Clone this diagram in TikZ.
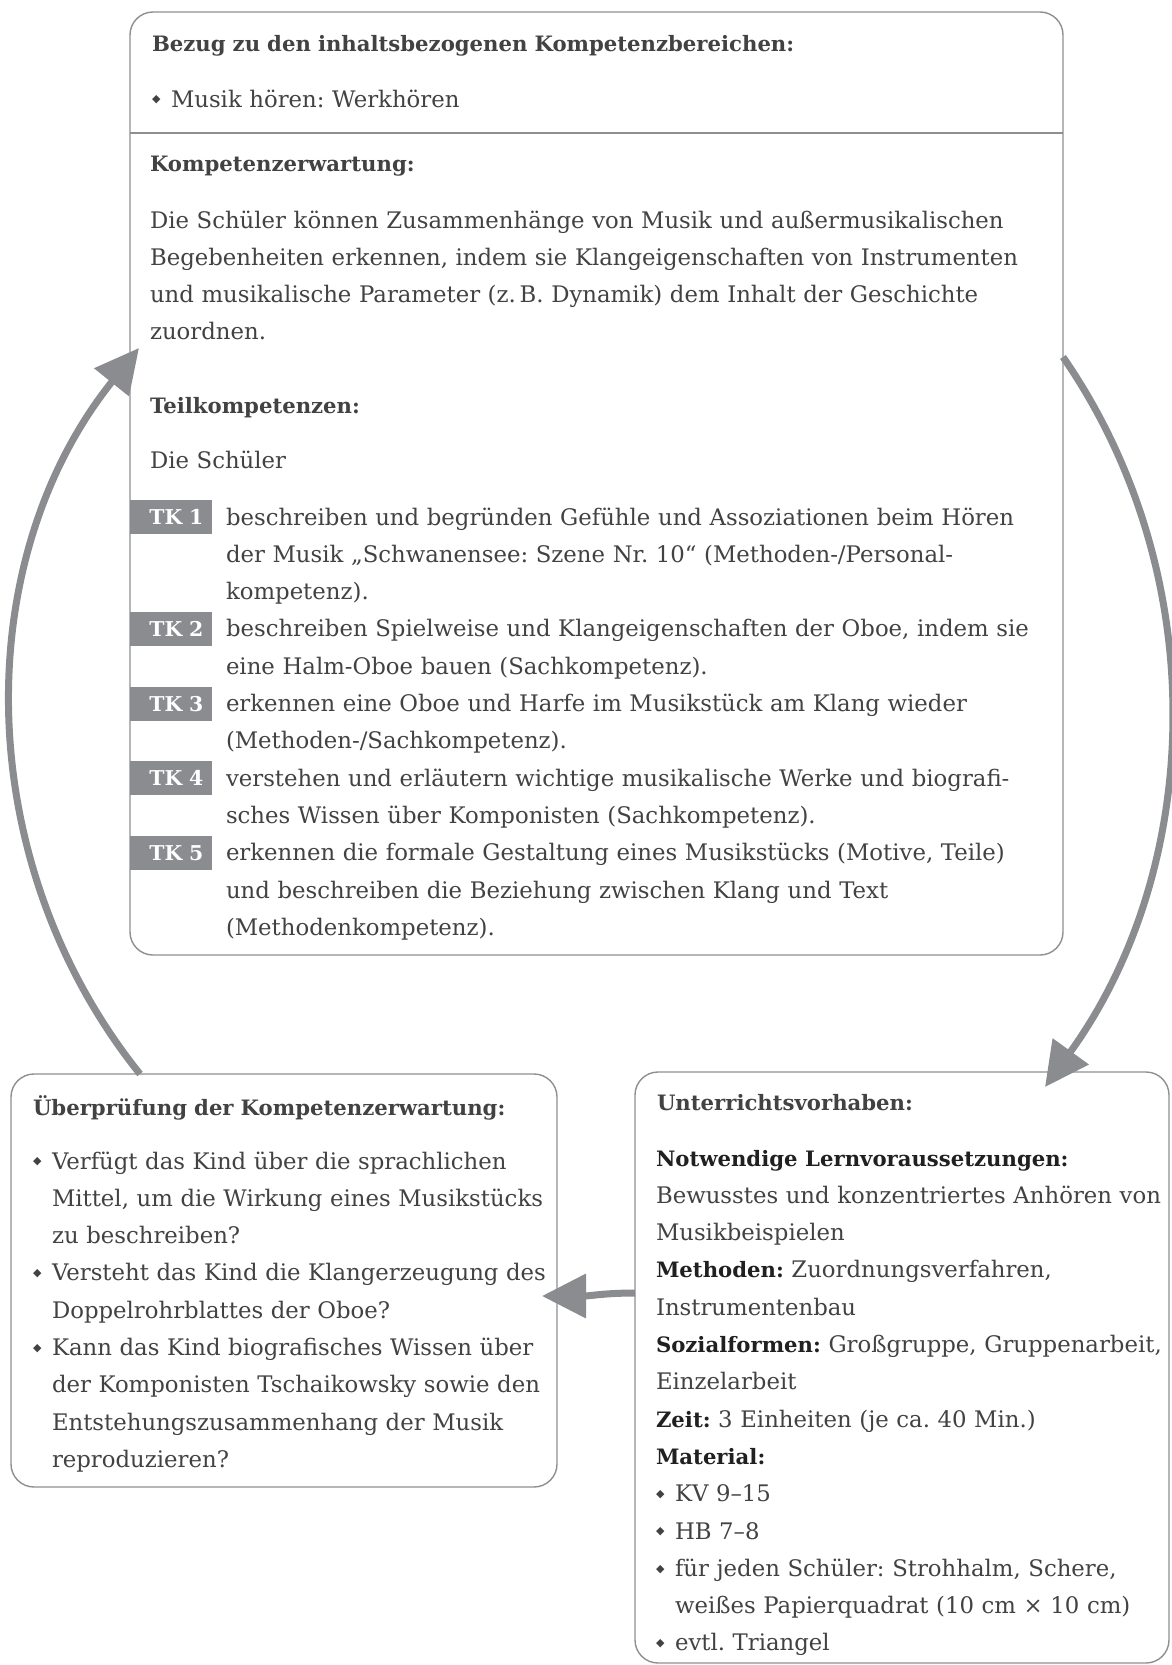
\documentclass[tikz,border=0pt]{standalone}
\usepackage{fontspec}
\setmainfont{DejaVu Serif}
\newfontfamily\symfont{DejaVu Sans}
\usetikzlibrary{arrows.meta}
\definecolor{arrgray}{HTML}{8B8C90}
\definecolor{linegray}{HTML}{8E8F92}
\definecolor{txtgray}{HTML}{424242}
\definecolor{headgray}{HTML}{202020}
\frenchspacing
\newcommand\bodyfont{\frenchspacing\fontsize{11.4}{18.65}\selectfont}
\newcommand\headfont{\frenchspacing\fontsize{10.6}{18.65}\selectfont\bfseries\color{headgray}}
\newcommand\dia{\makebox[9.5pt][l]{\raisebox{0.35ex}{\symfont\fontsize{5.5}{5.5}\selectfont ◆}}}
\newcommand\hin{\hspace*{9.5pt}}
\newcommand\hd[1]{{\headfont #1}}
\begin{document}
\begin{tikzpicture}[x=0.5pt,y=-0.5pt,
  box/.style={draw=linegray, line width=0.7pt, rounded corners=11.5pt, inner sep=0pt, outer sep=0pt, fill=white, anchor=north west},
  txt/.style={anchor=base west, inner sep=0pt, outer sep=0pt, align=left, text width=560pt, font=\bodyfont, text=txtgray},
  head/.style={txt, font=\headfont},
  tkbox/.style={anchor=north west, fill=arrgray, text=white, inner xsep=4.5pt, inner ysep=0pt, text width=32pt, align=right, minimum height=17pt, font=\fontsize{10.2}{12}\selectfont\bfseries},
  arr/.style={draw=arrgray, line width=3.5pt, -{Triangle[length=22pt,width=21.5pt]}}
]
\path[use as bounding box, fill=white] (0,0) rectangle (1172,1665);

% boxes
\node[box, minimum width=466.5pt, minimum height=471.5pt] (topbox) at (130,12) {};
\node[box, minimum width=273pt, minimum height=206.5pt] (leftbox) at (11,1074) {};
\node[box, minimum width=267pt, minimum height=295.5pt] (rightbox) at (635,1072) {};

% top box contents
\node[head] (t1) at (152,51) {Bezug zu den inhaltsbezogenen Kompetenzbereichen:};
\node[txt] (t2) at (152,107) {\dia Musik hören: Werkhören};
\draw[draw=linegray, line width=0.7pt] (topbox.west |- 0,133) -- (topbox.east |- 0,133);
\node[head] (t3) at (150,171) {Kompetenzerwartung:};
\node[txt] (t4) at (150,228) {Die Schüler können Zusammenhänge von Musik und außermusikalischen\\
Begebenheiten erkennen, indem sie Klangeigenschaften von Instrumenten\\
und musikalische Parameter (z.\,B. Dynamik) dem Inhalt der Geschichte\\
zuordnen.};
\node[head] (t5) at (150,413) {Teilkompetenzen:};
\node[txt] (t6) at (150,468) {Die Schüler};
\node[txt] (t7) at (226,525) {beschreiben und begründen Gefühle und Assoziationen beim Hören\\
der Musik „Schwanensee: Szene Nr. 10“ (Methoden-/Personal-\\
kompetenz).\\
beschreiben Spielweise und Klangeigenschaften der Oboe, indem sie\\
eine Halm-Oboe bauen (Sachkompetenz).\\
erkennen eine Oboe und Harfe im Musikstück am Klang wieder\\
(Methoden-/Sachkompetenz).\\
verstehen und erläutern wichtige musikalische Werke und biografi-\\
sches Wissen über Komponisten (Sachkompetenz).\\
erkennen die formale Gestaltung eines Musikstücks (Motive, Teile)\\
und beschreiben die Beziehung zwischen Klang und Text\\
(Methodenkompetenz).};
\node[tkbox] (tk1) at (130,500) {TK 1};
\node[tkbox] (tk2) at (130,612) {TK 2};
\node[tkbox] (tk3) at (130,686.5) {TK 3};
\node[tkbox] (tk4) at (130,761) {TK 4};
\node[tkbox] (tk5) at (130,835.7) {TK 5};

% left box contents
\node[head] (l1) at (33,1115) {Überprüfung der Kompetenzerwartung:};
\node[txt] (l2) at (33,1169) {\dia Verfügt das Kind über die sprachlichen\\
\hin Mittel, um die Wirkung eines Musikstücks\\
\hin zu beschreiben?\\
\dia Versteht das Kind die Klangerzeugung des\\
\hin Doppelrohrblattes der Oboe?\\
\dia Kann das Kind biografisches Wissen über\\
\hin der Komponisten Tschaikowsky sowie den\\
\hin Entstehungszusammenhang der Musik\\
\hin reproduzieren?};

% right box contents
\node[head] (r1) at (657,1110) {Unterrichtsvorhaben:};
\node[txt] (r2) at (656,1166) {\hd{Notwendige Lernvoraussetzungen:}\\
Bewusstes und konzentriertes Anhören von\\
Musikbeispielen\\
\hd{Methoden:} Zuordnungsverfahren,\\
Instrumentenbau\\
\hd{Sozialformen:} Großgruppe, Gruppenarbeit,\\
Einzelarbeit\\
\hd{Zeit:} 3 Einheiten (je ca. 40 Min.)\\
\hd{Material:}\\
\dia KV 9–15\\
\dia HB 7–8\\
\dia für jeden Schüler: Strohhalm, Schere,\\
\hin weißes Papierquadrat (10 cm × 10 cm)\\
\dia evtl. Triangel};

% connectors
\coordinate (ls) at (140,1074);
\coordinate (lt) at (139,348);
\coordinate (rs) at (1063,357);
\coordinate (rt) at (1045,1087);
\coordinate (ms) at (635,1293);
\coordinate (mt) at (542,1296);
\draw[arr] (ls) .. controls (-30,862) and (-31,560) .. (lt);
\draw[arr] (rs) .. controls (1215,577) and (1202,870) .. (rt);
\draw[arr] (ms) .. controls (605,1293) and (590,1296) .. (mt);
\end{tikzpicture}
\end{document}
